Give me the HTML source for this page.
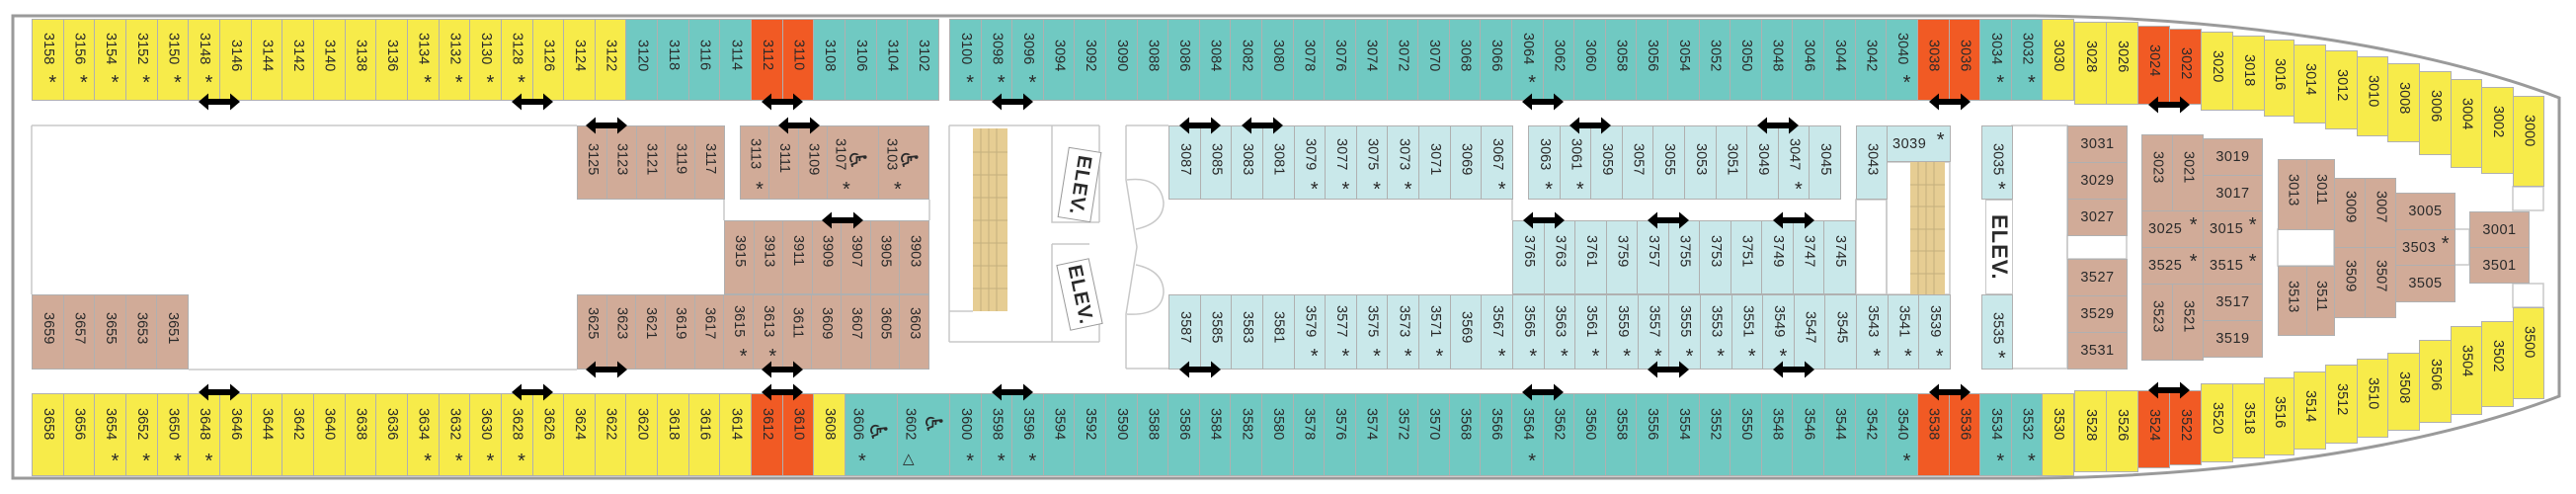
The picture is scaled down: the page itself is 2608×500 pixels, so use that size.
<!DOCTYPE html>
<html><head><meta charset="utf-8">
<style>
html,body{margin:0;padding:0;background:#fff}
body{width:2608px;height:500px;position:relative;overflow:hidden;font-family:"Liberation Sans",Arial,sans-serif;color:#2a2a2a}
.r{position:absolute;display:flex;box-sizing:border-box;border:1px solid #b0b0b0}
.r>div{flex:1;position:relative;border-left:1px solid #b0b0b0;box-sizing:border-box;background:inherit}
.r>div:first-child{border-left:none}
.Y{background:#f7eb4a!important}.T{background:#70c9c2!important}.O{background:#f15a24!important}
.L{background:#c9e8ea!important}.B{background:#d1ab98!important}
p{position:absolute;margin:0;left:50%;transform:translateX(-50%);writing-mode:vertical-rl;font-size:14.5px;line-height:15px;top:var(--t);white-space:nowrap}
.a p{top:var(--ta)}
s{text-decoration:none;position:absolute;left:50%;margin-left:1px;top:var(--ts);font-size:20px;line-height:20px}
.top{--t:20px;--ta:13px;--ts:54px}
.bot{--t:14px;--ta:14px;--ts:58px}
.mid{--t:17px;--ta:12px;--ts:54px}
.x{position:absolute;box-sizing:border-box;border:1px solid #b0b0b0}
.x p{top:var(--t,18px)}
.h{position:absolute;box-sizing:border-box;border:1px solid #b0b0b0;background:#d1ab98;font-size:14.5px;display:flex;align-items:center;justify-content:center;letter-spacing:0.5px}
.h.a{justify-content:flex-start;padding-left:6px}
.h.a b{font-weight:normal;font-size:20px;position:absolute;right:5px;top:3px}
.w{position:absolute;font-family:"DejaVu Sans",sans-serif;font-size:24px;transform:rotate(90deg);line-height:24px}
.elev{position:absolute;background:#fff;border:1px solid #999;box-sizing:border-box;display:flex;align-items:center;justify-content:center}
.elev span{writing-mode:vertical-rl;font-weight:bold;font-size:20px;letter-spacing:1px}
</style></head><body>

<svg width="2608" height="500" style="position:absolute;left:0;top:0" xmlns="http://www.w3.org/2000/svg">
<g fill="none" stroke="#c8c8c8" stroke-width="1.5">
<path d="M32,127H584M32,127V298M191,374H584M733,202V223M941,202V223"/>
<path d="M961,127H1113M961,127V346M961,315H985M1065,127V225H1113M1113,127V225M1065,247V346M1065,247H1103M961,346H1113M1113,325V346"/>
<path d="M1140,127H1183M1140,373H1183M1140,127V182L1151,250L1140,318V373"/>
<path d="M1141,182Q1175,178 1178,205Q1178,226 1150,232M1150,268Q1178,274 1178,296Q1176,320 1141,318"/>
<path d="M1531,202V223M1879,202V223"/>
<rect x="1879" y="202" width="31" height="96"/>
<rect x="1910" y="164" width="64" height="134"/>
<rect x="2037" y="127" width="56" height="246"/>
<rect x="2093" y="238" width="60" height="24"/>
<rect x="2544" y="189" width="31" height="24"/>
<rect x="2544" y="287" width="31" height="24"/>
<rect x="2306" y="232" width="57" height="37"/>
<rect x="2485" y="232" width="15" height="36"/>
</g>
<rect x="985" y="130" width="35" height="185" fill="#e6cd93"/>
<g stroke="#c4b07e" stroke-width="1" fill="none">
<path d="M993,130V315M1001,130V315M1009,130V315M985,154H1020M985,177H1020M985,200H1020M985,223H1020M985,246H1020M985,269H1020M985,292H1020"/>
</g>
<rect x="1934" y="164" width="35" height="134" fill="#e6cd93"/>
<g stroke="#c4b07e" stroke-width="1" fill="none">
<path d="M1942,164V298M1950,164V298M1958,164V298M1934,187H1969M1934,209H1969M1934,232H1969M1934,254H1969M1934,277H1969"/>
</g>
<path d="M13,16H2060C2250,18 2450,45 2591,99V401C2450,455 2250,482 2060,484H13Z" fill="none" stroke="#9a9a9a" stroke-width="3"/>
</svg>

<!-- top row -->
<div class="r top Y" style="left:32px;top:19px;width:919px;height:83px">
<div class="a"><p>3158</p><s>*</s></div><div class="a"><p>3156</p><s>*</s></div><div class="a"><p>3154</p><s>*</s></div><div class="a"><p>3152</p><s>*</s></div><div class="a"><p>3150</p><s>*</s></div><div class="a"><p>3148</p><s>*</s></div><div><p>3146</p></div><div><p>3144</p></div><div><p>3142</p></div><div><p>3140</p></div><div><p>3138</p></div><div><p>3136</p></div><div class="a"><p>3134</p><s>*</s></div><div class="a"><p>3132</p><s>*</s></div><div class="a"><p>3130</p><s>*</s></div><div class="a"><p>3128</p><s>*</s></div><div><p>3126</p></div><div><p>3124</p></div><div><p>3122</p></div>
<div class="T"><p>3120</p></div><div class="T"><p>3118</p></div><div class="T"><p>3116</p></div><div class="T"><p>3114</p></div><div class="O"><p>3112</p></div><div class="O"><p>3110</p></div><div class="T"><p>3108</p></div><div class="T"><p>3106</p></div><div class="T"><p>3104</p></div><div class="T"><p>3102</p></div>
</div>
<div class="r top T" style="left:961px;top:19px;width:1139px;height:83px">
<div class="a"><p>3100</p><s>*</s></div><div class="a"><p>3098</p><s>*</s></div><div class="a"><p>3096</p><s>*</s></div><div><p>3094</p></div><div><p>3092</p></div><div><p>3090</p></div><div><p>3088</p></div><div><p>3086</p></div><div><p>3084</p></div><div><p>3082</p></div><div><p>3080</p></div><div><p>3078</p></div><div><p>3076</p></div><div><p>3074</p></div><div><p>3072</p></div><div><p>3070</p></div><div><p>3068</p></div><div><p>3066</p></div><div class="a"><p>3064</p><s>*</s></div><div><p>3062</p></div><div><p>3060</p></div><div><p>3058</p></div><div><p>3056</p></div><div><p>3054</p></div><div><p>3052</p></div><div><p>3050</p></div><div><p>3048</p></div><div><p>3046</p></div><div><p>3044</p></div><div><p>3042</p></div><div class="a"><p>3040</p><s>*</s></div><div class="O"><p>3038</p></div><div class="O"><p>3036</p></div><div class="a"><p>3034</p><s>*</s></div><div class="a"><p>3032</p><s>*</s></div><div class="Y"><p>3030</p></div>
</div>

<!-- top bow -->
<div class="x Y" style="left:2100px;top:22px;width:33px;height:84px"><p>3028</p></div>
<div class="x Y" style="left:2132px;top:22px;width:33px;height:84px"><p>3026</p></div>
<div class="x O" style="left:2164px;top:26px;width:33px;height:80px"><p>3024</p></div>
<div class="x O" style="left:2196px;top:29px;width:33px;height:77px"><p>3022</p></div>
<div class="x Y" style="left:2228px;top:32px;width:33px;height:80px"><p>3020</p></div>
<div class="x Y" style="left:2260px;top:36px;width:33px;height:76px"><p>3018</p></div>
<div class="x Y" style="left:2292px;top:40px;width:31px;height:78px"><p>3016</p></div>
<div class="x Y" style="left:2322px;top:45px;width:33px;height:80px"><p>3014</p></div>
<div class="x Y" style="left:2354px;top:51px;width:33px;height:80px"><p>3012</p></div>
<div class="x Y" style="left:2386px;top:57px;width:32px;height:81px"><p>3010</p></div>
<div class="x Y" style="left:2417px;top:64px;width:33px;height:80px"><p>3008</p></div>
<div class="x Y" style="left:2449px;top:72px;width:33px;height:85px"><p>3006</p></div>
<div class="x Y" style="left:2481px;top:80px;width:32px;height:90px"><p>3004</p></div>
<div class="x Y" style="left:2512px;top:88px;width:33px;height:88px"><p>3002</p></div>
<div class="x Y" style="left:2544px;top:97px;width:32px;height:92px"><p>3000</p></div>

<!-- bottom row -->
<div class="r bot Y" style="left:32px;top:398px;width:824px;height:84px">
<div><p>3658</p></div><div><p>3656</p></div><div class="a"><p>3654</p><s>*</s></div><div class="a"><p>3652</p><s>*</s></div><div class="a"><p>3650</p><s>*</s></div><div class="a"><p>3648</p><s>*</s></div><div><p>3646</p></div><div><p>3644</p></div><div><p>3642</p></div><div><p>3640</p></div><div><p>3638</p></div><div><p>3636</p></div><div class="a"><p>3634</p><s>*</s></div><div class="a"><p>3632</p><s>*</s></div><div class="a"><p>3630</p><s>*</s></div><div class="a"><p>3628</p><s>*</s></div><div><p>3626</p></div><div><p>3624</p></div><div><p>3622</p></div><div><p>3620</p></div><div><p>3618</p></div><div><p>3616</p></div><div><p>3614</p></div><div class="O"><p>3612</p></div><div class="O"><p>3610</p></div><div><p>3608</p></div>
</div>
<div class="x T bot" style="left:855px;top:398px;width:54px;height:84px"><p style="left:12px;top:14px">3606</p><span class="w" style="left:22px;top:26px">♿</span><s style="left:12px;top:58px">*</s></div>
<div class="x T bot" style="left:908px;top:398px;width:54px;height:84px"><p style="left:12px;top:14px">3602</p><span class="w" style="left:25px;top:18px">♿</span><s style="left:4px;top:56px;font-size:15px">△</s></div>
<div class="r bot T" style="left:961px;top:398px;width:1139px;height:84px">
<div class="a"><p>3600</p><s>*</s></div><div class="a"><p>3598</p><s>*</s></div><div class="a"><p>3596</p><s>*</s></div><div><p>3594</p></div><div><p>3592</p></div><div><p>3590</p></div><div><p>3588</p></div><div><p>3586</p></div><div><p>3584</p></div><div><p>3582</p></div><div><p>3580</p></div><div><p>3578</p></div><div><p>3576</p></div><div><p>3574</p></div><div><p>3572</p></div><div><p>3570</p></div><div><p>3568</p></div><div><p>3566</p></div><div class="a"><p>3564</p><s>*</s></div><div><p>3562</p></div><div><p>3560</p></div><div><p>3558</p></div><div><p>3556</p></div><div><p>3554</p></div><div><p>3552</p></div><div><p>3550</p></div><div><p>3548</p></div><div><p>3546</p></div><div><p>3544</p></div><div><p>3542</p></div><div class="a"><p>3540</p><s>*</s></div><div class="O"><p>3538</p></div><div class="O"><p>3536</p></div><div class="a"><p>3534</p><s>*</s></div><div class="a"><p>3532</p><s>*</s></div><div class="Y"><p>3530</p></div>
</div>

<!-- bottom bow -->
<div class="x Y" style="left:2100px;top:395px;width:33px;height:83px"><p>3528</p></div>
<div class="x Y" style="left:2132px;top:395px;width:33px;height:83px"><p>3526</p></div>
<div class="x O" style="left:2164px;top:395px;width:33px;height:79px"><p>3524</p></div>
<div class="x O" style="left:2196px;top:395px;width:33px;height:76px"><p>3522</p></div>
<div class="x Y" style="left:2228px;top:388px;width:33px;height:80px"><p>3520</p></div>
<div class="x Y" style="left:2260px;top:388px;width:33px;height:76px"><p>3518</p></div>
<div class="x Y" style="left:2292px;top:382px;width:31px;height:79px"><p>3516</p></div>
<div class="x Y" style="left:2322px;top:376px;width:33px;height:79px"><p>3514</p></div>
<div class="x Y" style="left:2354px;top:369px;width:33px;height:80px"><p>3512</p></div>
<div class="x Y" style="left:2386px;top:363px;width:32px;height:80px"><p>3510</p></div>
<div class="x Y" style="left:2417px;top:357px;width:33px;height:79px"><p>3508</p></div>
<div class="x Y" style="left:2449px;top:344px;width:33px;height:84px"><p>3506</p></div>
<div class="x Y" style="left:2481px;top:330px;width:32px;height:90px"><p>3504</p></div>
<div class="x Y" style="left:2512px;top:325px;width:33px;height:87px"><p>3502</p></div>
<div class="x Y" style="left:2544px;top:311px;width:32px;height:93px"><p>3500</p></div>

<!-- middle brown left -->
<div class="r mid B" style="left:584px;top:127px;width:150px;height:75px">
<div><p>3125</p></div><div><p>3123</p></div><div><p>3121</p></div><div><p>3119</p></div><div><p>3117</p></div>
</div>
<div class="r mid B" style="left:749px;top:127px;width:192px;height:75px">
<div class="a"><p>3113</p><s>*</s></div><div><p>3111</p></div><div><p>3109</p></div>
<div class="a" style="flex:0 0 52px"><p style="left:12px">3107</p><span class="w" style="left:19px;top:22px">♿</span><s style="left:14px">*</s></div>
<div class="a" style="flex:0 0 51px"><p style="left:12px">3103</p><span class="w" style="left:19px;top:22px">♿</span><s style="left:14px">*</s></div>
</div>
<div class="r mid B" style="left:733px;top:223px;width:208px;height:75px;--t:14px">
<div><p>3915</p></div><div><p>3913</p></div><div><p>3911</p></div><div><p>3909</p></div><div><p>3907</p></div><div><p>3905</p></div><div><p>3903</p></div>
</div>
<div class="r mid B" style="left:584px;top:298px;width:357px;height:76px;--t:12px;--ta:10px;--ts:52px">
<div><p>3625</p></div><div><p>3623</p></div><div><p>3621</p></div><div><p>3619</p></div><div><p>3617</p></div><div class="a"><p>3615</p><s>*</s></div><div class="a"><p>3613</p><s>*</s></div><div><p>3611</p></div><div><p>3609</p></div><div><p>3607</p></div><div><p>3605</p></div><div><p>3603</p></div>
</div>
<div class="r mid B" style="left:32px;top:298px;width:159px;height:76px">
<div><p>3659</p></div><div><p>3657</p></div><div><p>3655</p></div><div><p>3653</p></div><div><p>3651</p></div>
</div>

<!-- middle light blue -->
<div class="r mid L" style="left:1183px;top:127px;width:349px;height:75px">
<div><p>3087</p></div><div><p>3085</p></div><div><p>3083</p></div><div><p>3081</p></div><div class="a"><p>3079</p><s>*</s></div><div class="a"><p>3077</p><s>*</s></div><div class="a"><p>3075</p><s>*</s></div><div class="a"><p>3073</p><s>*</s></div><div><p>3071</p></div><div><p>3069</p></div><div class="a"><p>3067</p><s>*</s></div>
</div>
<div class="r mid L" style="left:1547px;top:127px;width:317px;height:75px">
<div class="a"><p>3063</p><s>*</s></div><div class="a"><p>3061</p><s>*</s></div><div><p>3059</p></div><div><p>3057</p></div><div><p>3055</p></div><div><p>3053</p></div><div><p>3051</p></div><div><p>3049</p></div><div class="a"><p>3047</p><s>*</s></div><div><p>3045</p></div>
</div>
<div class="x L mid" style="left:1879px;top:127px;width:32px;height:75px"><p>3043</p></div>
<div class="x L" style="left:1910px;top:127px;width:65px;height:37px;font-size:14.5px;letter-spacing:0.5px"><span style="position:absolute;left:5px;top:10px">3039</span><span style="position:absolute;right:5px;top:3px;font-size:20px">*</span></div>
<div class="r mid L" style="left:1531px;top:223px;width:348px;height:75px;--t:14px">
<div><p>3765</p></div><div><p>3763</p></div><div><p>3761</p></div><div><p>3759</p></div><div><p>3757</p></div><div><p>3755</p></div><div><p>3753</p></div><div><p>3751</p></div><div><p>3749</p></div><div><p>3747</p></div><div><p>3745</p></div>
</div>
<div class="r mid L" style="left:1183px;top:298px;width:792px;height:76px;--t:16px;--ta:10px;--ts:52px">
<div><p>3587</p></div><div><p>3585</p></div><div><p>3583</p></div><div><p>3581</p></div><div class="a"><p>3579</p><s>*</s></div><div class="a"><p>3577</p><s>*</s></div><div class="a"><p>3575</p><s>*</s></div><div class="a"><p>3573</p><s>*</s></div><div class="a"><p>3571</p><s>*</s></div><div><p>3569</p></div><div class="a"><p>3567</p><s>*</s></div><div class="a"><p>3565</p><s>*</s></div><div class="a"><p>3563</p><s>*</s></div><div class="a"><p>3561</p><s>*</s></div><div class="a"><p>3559</p><s>*</s></div><div class="a"><p>3557</p><s>*</s></div><div class="a"><p>3555</p><s>*</s></div><div class="a"><p>3553</p><s>*</s></div><div class="a"><p>3551</p><s>*</s></div><div class="a"><p>3549</p><s>*</s></div><div><p>3547</p></div><div><p>3545</p></div><div class="a"><p>3543</p><s>*</s></div><div class="a"><p>3541</p><s>*</s></div><div class="a"><p>3539</p><s>*</s></div>
</div>
<div class="x L mid a" style="left:2006px;top:127px;width:32px;height:75px;--ta:10px"><p>3035</p><s>*</s></div>
<div class="x L mid a" style="left:2006px;top:298px;width:32px;height:76px;--ta:10px"><p>3535</p><s>*</s></div>

<!-- elevators -->
<div class="elev" style="left:1076px;top:151px;width:34px;height:72px;transform:rotate(9deg)"><span>ELEV.</span></div>
<div class="elev" style="left:1076px;top:264px;width:34px;height:68px;transform:rotate(-12deg)"><span>ELEV.</span></div>
<div class="elev" style="left:2010px;top:202px;width:28px;height:96px;border-color:#c8c8c8"><span style="font-size:22px">ELEV.</span></div>

<!-- right brown rooms -->
<div class="h" style="left:2093px;top:127px;width:61px;height:38px">3031</div>
<div class="h" style="left:2093px;top:164px;width:61px;height:38px">3029</div>
<div class="h" style="left:2093px;top:201px;width:61px;height:38px">3027</div>
<div class="h" style="left:2093px;top:262px;width:61px;height:38px">3527</div>
<div class="h" style="left:2093px;top:299px;width:61px;height:38px">3529</div>
<div class="h" style="left:2093px;top:336px;width:61px;height:38px">3531</div>
<div class="x B" style="left:2168px;top:136px;width:32px;height:78px;--t:16px"><p>3023</p></div>
<div class="x B" style="left:2199px;top:136px;width:32px;height:78px;--t:16px"><p>3021</p></div>
<div class="h" style="left:2230px;top:140px;width:61px;height:38px">3019</div>
<div class="h" style="left:2230px;top:177px;width:61px;height:37px">3017</div>
<div class="h a" style="left:2168px;top:213px;width:63px;height:38px">3025<b>*</b></div>
<div class="h a" style="left:2230px;top:213px;width:61px;height:38px">3015<b>*</b></div>
<div class="h a" style="left:2168px;top:250px;width:63px;height:38px">3525<b>*</b></div>
<div class="h a" style="left:2230px;top:250px;width:61px;height:38px">3515<b>*</b></div>
<div class="x B" style="left:2168px;top:287px;width:32px;height:78px;--t:16px"><p>3523</p></div>
<div class="x B" style="left:2199px;top:287px;width:32px;height:78px;--t:16px"><p>3521</p></div>
<div class="h" style="left:2230px;top:287px;width:61px;height:38px">3517</div>
<div class="h" style="left:2230px;top:324px;width:61px;height:38px">3519</div>
<div class="x B" style="left:2306px;top:161px;width:30px;height:72px;--t:14px"><p>3013</p></div>
<div class="x B" style="left:2335px;top:161px;width:29px;height:72px;--t:14px"><p>3011</p></div>
<div class="x B" style="left:2363px;top:180px;width:32px;height:71px;--t:12px"><p>3009</p></div>
<div class="x B" style="left:2394px;top:180px;width:32px;height:71px;--t:12px"><p>3007</p></div>
<div class="x B" style="left:2363px;top:250px;width:32px;height:72px;--t:12px"><p>3509</p></div>
<div class="x B" style="left:2394px;top:250px;width:32px;height:72px;--t:12px"><p>3507</p></div>
<div class="x B" style="left:2306px;top:269px;width:30px;height:71px;--t:14px"><p>3513</p></div>
<div class="x B" style="left:2335px;top:269px;width:29px;height:71px;--t:14px"><p>3511</p></div>
<div class="h" style="left:2425px;top:195px;width:61px;height:38px">3005</div>
<div class="h a" style="left:2425px;top:232px;width:61px;height:37px">3503<b>*</b></div>
<div class="h" style="left:2425px;top:268px;width:61px;height:38px">3505</div>
<div class="h" style="left:2500px;top:214px;width:61px;height:37px">3001</div>
<div class="h" style="left:2500px;top:250px;width:61px;height:37px">3501</div>

<!-- arrows -->
<svg width="2608" height="500" style="position:absolute;left:0;top:0" xmlns="http://www.w3.org/2000/svg">
<defs><polygon id="ar" points="-21,0 -11,-8.5 -11,-3 11,-3 11,-8.5 21,0 11,8.5 11,3 -11,3 -11,8.5" fill="#000"/></defs>
<use href="#ar" x="222" y="103"/><use href="#ar" x="539" y="103"/><use href="#ar" x="792" y="103"/><use href="#ar" x="1025" y="103"/><use href="#ar" x="1562" y="103"/><use href="#ar" x="1974" y="103"/><use href="#ar" x="2196" y="106"/>
<use href="#ar" x="614" y="127"/><use href="#ar" x="809" y="127"/><use href="#ar" x="1215" y="127"/><use href="#ar" x="1278" y="127"/><use href="#ar" x="1610" y="127"/><use href="#ar" x="1800" y="127"/>
<use href="#ar" x="853" y="223"/><use href="#ar" x="1563" y="223"/><use href="#ar" x="1689" y="223"/><use href="#ar" x="1816" y="223"/>
<use href="#ar" x="614" y="374"/><use href="#ar" x="792" y="374"/><use href="#ar" x="1215" y="374"/><use href="#ar" x="1689" y="374"/><use href="#ar" x="1816" y="374"/>
<use href="#ar" x="222" y="397"/><use href="#ar" x="539" y="397"/><use href="#ar" x="792" y="397"/><use href="#ar" x="1025" y="397"/><use href="#ar" x="1562" y="397"/><use href="#ar" x="1974" y="397"/><use href="#ar" x="2196" y="395"/>
</svg>
</body></html>
